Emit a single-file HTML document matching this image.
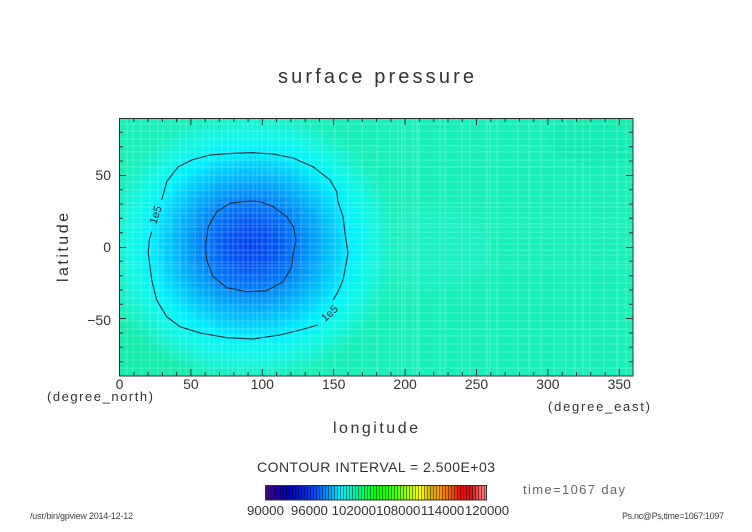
<!DOCTYPE html>
<html><head><meta charset="utf-8"><style>html,body{margin:0;padding:0;background:#fff}svg{display:block}</style></head>
<body>
<svg width="752" height="532" viewBox="0 0 752 532" xmlns="http://www.w3.org/2000/svg" font-family="'Liberation Sans', sans-serif" fill="#333">
<defs>
  <clipPath id="pc"><rect x="119" y="118" width="514" height="258"/></clipPath>
  <radialGradient id="low" gradientUnits="userSpaceOnUse" cx="251" cy="245" r="150" gradientTransform="translate(251 245) scale(1 0.93) translate(-251 -245)">
    <stop offset="0" stop-color="#0040ee"/>
    <stop offset="0.15" stop-color="#0052f4"/>
    <stop offset="0.3" stop-color="#0078fa"/>
    <stop offset="0.45" stop-color="#00a8fc"/>
    <stop offset="0.6" stop-color="#00d8ff"/>
    <stop offset="0.67" stop-color="#00f0ff"/>
    <stop offset="0.8" stop-color="#10f8e6"/>
    <stop offset="0.93" stop-color="#18f0c4"/>
    <stop offset="1" stop-color="#18f0b8" stop-opacity="0"/>
  </radialGradient>
  <linearGradient id="cb" x1="0" y1="0" x2="1" y2="0">
    <stop offset="0" stop-color="#500090"/>
    <stop offset="0.05" stop-color="#2000a0"/>
    <stop offset="0.1" stop-color="#0000b0"/>
    <stop offset="0.17" stop-color="#0020d8"/>
    <stop offset="0.23" stop-color="#0050ff"/>
    <stop offset="0.3" stop-color="#00b0f0"/>
    <stop offset="0.34" stop-color="#00f0ff"/>
    <stop offset="0.4" stop-color="#00f0b0"/>
    <stop offset="0.45" stop-color="#00ff60"/>
    <stop offset="0.5" stop-color="#00ff00"/>
    <stop offset="0.58" stop-color="#40ff00"/>
    <stop offset="0.65" stop-color="#b0ff00"/>
    <stop offset="0.7" stop-color="#ffff00"/>
    <stop offset="0.75" stop-color="#d0b000"/>
    <stop offset="0.78" stop-color="#ffa000"/>
    <stop offset="0.85" stop-color="#e05000"/>
    <stop offset="0.88" stop-color="#ff0000"/>
    <stop offset="0.93" stop-color="#c02020"/>
    <stop offset="0.97" stop-color="#ff6060"/>
    <stop offset="1" stop-color="#ff8080"/>
  </linearGradient>
  <pattern id="stripes" patternUnits="userSpaceOnUse" x="265" y="0" width="3" height="20">
    <rect x="0" y="0" width="1" height="20" fill="#000" fill-opacity="0.45"/>
  </pattern>
</defs>

<!-- title -->
<text x="376" y="83" font-size="20" text-anchor="middle" textLength="196" lengthAdjust="spacing">surface pressure</text>

<!-- plot field -->
<g clip-path="url(#pc)">
  <rect x="119" y="118" width="514" height="258" fill="#18f0b8"/>
  <ellipse cx="150" cy="350" rx="60" ry="30" fill="#10e8a8" opacity="0.5"/>
  <ellipse cx="600" cy="140" rx="50" ry="25" fill="#10e8a8" opacity="0.4"/>
  <ellipse cx="430" cy="250" rx="60" ry="40" fill="#20f0c8" opacity="0.5"/>
  <rect x="100" y="90" width="320" height="320" fill="url(#low)"/>
  <g stroke="#ffffff" stroke-opacity="0.22" stroke-width="1">
    <path d="M127 118V376M133 118V376M141 118V376M150 118V376M158 118V376M163 118V376M171 118V376M180 118V376M186 118V376M195 118V376M203 118V376M209 118V376M214 118V376M222 118V376M228 118V376M233 118V376M238 118V376M243 118V376M248 118V376M253 118V376M257 118V376M262 118V376M268 118V376M272 118V376M279 118V376M286 118V376M293 118V376M301 118V376M310 118V376M322 118V376M335 118V376M348 118V376M362 118V376M377 118V376M390 118V376M398 118V376M402 118V376M405 118V376M413 118V376M417 118V376M419 118V376M440 118V376M445 118V376M462 118V376M470 118V376M487 118V376M490 118V376M497 118V376M518 118V376M529 118V376M541 118V376M554 118V376M566 118V376M575 118V376M583 118V376M590 118V376M604 118V376M617 118V376M626 118V376"/>
    <path d="M119 124H633M119 131H633M119 139H633M119 146H633M119 152H633M119 160H633M119 167H633M119 175H633M119 182H633M119 190H633M119 196H633M119 203H633M119 207H633M119 213H633M119 218H633M119 224H633M119 227H633M119 232H633M119 238H633M119 244H633M119 250H633M119 255H633M119 262H633M119 265H633M119 268H633M119 275H633M119 283H633M119 290H633M119 298H633M119 305H633M119 313H633M119 321H633M119 329H633M119 336H633M119 344H633M119 352H633M119 360H633M119 368H633"/>
  </g>
  <!-- contours -->
  <g fill="none" stroke="#1a3038" stroke-width="1.1">
    <path d="M161.7 200 L166.7 181.7 L178 167 L191.7 160 L210 155 L233 153.3 L253 152.7 L273 154 L293 158 L313 166.7 L330 180 L336.7 191.7 L338 201.7 L343 216.7 L345 233 L348 253 L345 270 L343 280 L338 291.7 L333 300"/>
    <path d="M318 325 L300 330 L280 335 L253 339 L227 337.7 L200 333 L180 326.7 L166.7 316.7 L156.7 300 L151.7 280 L148.3 253 L149.3 240 L151.7 231.7"/>
    <path d="M250 201 L230 203.3 L216.7 211.7 L208.3 226.7 L205.3 246.7 L206.7 260 L213.3 276.7 L226.7 287.7 L246.7 291.7 L266.7 290.7 L283.3 281.7 L291.7 266.7 L293.3 253.3 L296 240 L293.3 226.7 L286.7 216.7 L273.3 206.7 L260 201.7 Z"/>
  </g>
  <text x="0" y="0" font-size="11" text-anchor="middle" fill="#1a3038" transform="translate(159 216) rotate(-72)">1e5</text>
  <text x="0" y="0" font-size="11" text-anchor="middle" fill="#1a3038" transform="translate(332 316) rotate(-43)">1e5</text>
</g>

<!-- frame and ticks -->
<g stroke="#333" stroke-width="1" fill="none">
  <rect x="119.5" y="118.5" width="513.5" height="257.5"/>
  <path d="M119.5 376V369M190.9 376V369M262.3 376V369M333.7 376V369M405.1 376V369M476.5 376V369M547.9 376V369M619.3 376V369
           M133.8 376V372M148.1 376V372M162.4 376V372M176.6 376V372M205.2 376V372M219.5 376V372M233.8 376V372M248.1 376V372M276.6 376V372M290.9 376V372M305.2 376V372M319.5 376V372M348 376V372M362.3 376V372M376.6 376V372M390.9 376V372M419.4 376V372M433.7 376V372M448 376V372M462.3 376V372M490.8 376V372M505.1 376V372M519.4 376V372M533.7 376V372M562.2 376V372M576.5 376V372M590.8 376V372M605.1 376V372"/>
  <path d="M119.5 118V125M190.9 118V125M262.3 118V125M333.7 118V125M405.1 118V125M476.5 118V125M547.9 118V125M619.3 118V125
           M133.8 118V122M148.1 118V122M162.4 118V122M176.6 118V122M205.2 118V122M219.5 118V122M233.8 118V122M248.1 118V122M276.6 118V122M290.9 118V122M305.2 118V122M319.5 118V122M348 118V122M362.3 118V122M376.6 118V122M390.9 118V122M419.4 118V122M433.7 118V122M448 118V122M462.3 118V122M490.8 118V122M505.1 118V122M519.4 118V122M533.7 118V122M562.2 118V122M576.5 118V122M590.8 118V122M605.1 118V122"/>
  <path d="M119 175.5H126M119 247.5H126M119 318.5H126
           M119 132.3H123M119 146.7H123M119 161H123M119 189.7H123M119 204H123M119 218.3H123M119 232.7H123M119 261.3H123M119 275.7H123M119 290H123M119 304.3H123M119 333H123M119 347.3H123M119 361.7H123"/>
  <path d="M633 175.5H626M633 247.5H626M633 318.5H626
           M633 132.3H629M633 146.7H629M633 161H629M633 189.7H629M633 204H629M633 218.3H629M633 232.7H629M633 261.3H629M633 275.7H629M633 290H629M633 304.3H629M633 333H629M633 347.3H629M633 361.7H629"/>
</g>

<!-- x tick labels -->
<g font-size="14" text-anchor="middle">
  <text x="119.5" y="389">0</text>
  <text x="190.9" y="389">50</text>
  <text x="262.3" y="389">100</text>
  <text x="333.7" y="389">150</text>
  <text x="405.1" y="389">200</text>
  <text x="476.5" y="389">250</text>
  <text x="547.9" y="389">300</text>
  <text x="619.3" y="389">350</text>
</g>
<!-- y tick labels -->
<g font-size="14" text-anchor="end">
  <text x="111" y="180">50</text>
  <text x="111" y="252">0</text>
  <text x="111" y="325">−50</text>
</g>

<text x="47" y="401" font-size="13" textLength="106" lengthAdjust="spacing">(degree_north)</text>
<text x="548" y="411" font-size="13" textLength="102" lengthAdjust="spacing">(degree_east)</text>
<text x="333" y="433" font-size="16" textLength="85" lengthAdjust="spacing">longitude</text>
<text x="0" y="0" font-size="16" textLength="69" lengthAdjust="spacing" transform="translate(68 282) rotate(-90)">latitude</text>

<!-- contour interval -->
<text x="257" y="472" font-size="14" textLength="238" lengthAdjust="spacing">CONTOUR INTERVAL = 2.500E+03</text>

<!-- colorbar -->
<rect x="265" y="485" width="222" height="15" fill="url(#cb)"/>
<rect x="265" y="485" width="222" height="15" fill="url(#stripes)"/>
<rect x="265.5" y="485.5" width="221" height="14.5" fill="none" stroke="#333" stroke-width="1"/>
<g font-size="13.3" text-anchor="middle">
  <text x="265.5" y="515">90000</text>
  <text x="309.4" y="515">96000</text>
  <text x="353.8" y="515">102000</text>
  <text x="398.2" y="515">108000</text>
  <text x="442.6" y="515">114000</text>
  <text x="487" y="515">120000</text>
</g>

<text x="523" y="494" font-size="13" fill="#666" textLength="102" lengthAdjust="spacing">time=1067 day</text>
<text x="30" y="519" font-size="9" fill="#444" textLength="103" lengthAdjust="spacing">/usr/bin/gpview  2014-12-12</text>
<text x="622" y="519" font-size="9" fill="#444" textLength="102" lengthAdjust="spacing">Ps.nc@Ps,time=1067:1097</text>
</svg>
</body></html>
